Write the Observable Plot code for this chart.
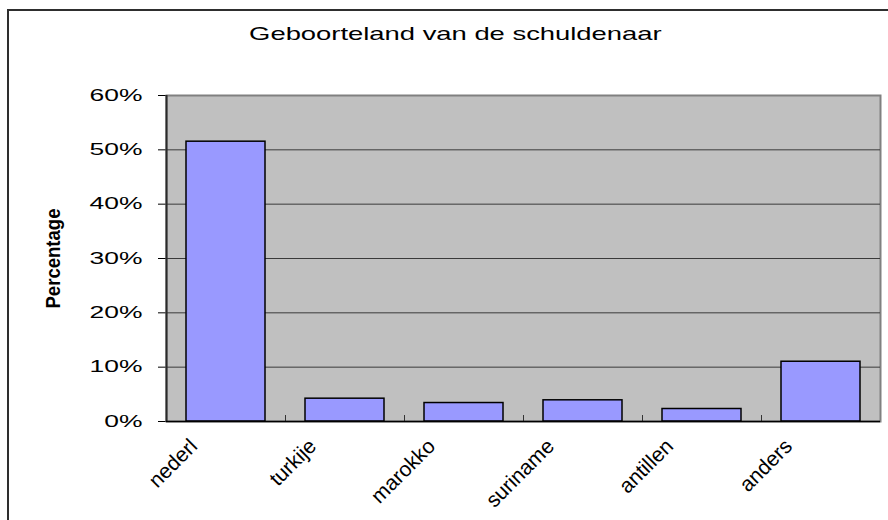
<!DOCTYPE html>
<html>
<head>
<meta charset="utf-8">
<script src="https://cdn.jsdelivr.net/npm/d3@7"></script>
<script src="https://cdn.jsdelivr.net/npm/@observablehq/plot@0.6"></script>
<style>
  html, body { margin: 0; padding: 0; background: #fff; width: 888px; height: 520px; overflow: hidden; }
  #frame { position: absolute; left: 7px; top: 9px; width: 940px; height: 620px; border: 2px solid #2e2e2e; box-sizing: border-box; }
  #title { position: absolute; left: 0; top: 24px; width: 910px; text-align: center; font-family: "Liberation Sans", Arial, sans-serif; font-size: 18.5px; line-height: 20px; color: #000; white-space: nowrap; }
  #title span { display: inline-block; transform: scaleX(1.48); transform-origin: 50% 50%; }
  #chart { position: absolute; left: 0; top: 55px; }
</style>
</head>
<body>
<div id="frame"></div>
<div id="title"><span></span></div>
<div id="chart"></div>
<script>
// ---- data ----
const title = "Geboorteland van de schuldenaar";
const yLabel = "Percentage";
const categories = ["nederl", "turkije", "marokko", "suriname", "antillen", "anders"];
const percentages = [51.5, 4.2, 3.4, 3.9, 2.3, 11.0];
const yTicks = [0, 10, 20, 30, 40, 50, 60];
const gridLevels = [10, 20, 30, 40, 50];

const data = categories.map((c, i) => ({category: c, value: percentages[i]}));

document.querySelector("#title span").textContent = title;

const chart = Plot.plot({
  width: 888,
  height: 465,
  marginTop: 40,
  marginBottom: 99,
  marginLeft: 166,
  marginRight: 8,
  style: {fontFamily: "'Liberation Sans', Arial, sans-serif", fontSize: "16px", color: "#000", background: "transparent", overflow: "visible"},
  x: {domain: categories, paddingInner: 0.336, paddingOuter: 0.168, axis: null},
  y: {domain: [0, 60], ticks: yTicks, tickFormat: d => d + "%", tickSize: 8, tickPadding: 16, label: null},
  marks: [
    Plot.frame({fill: "#C0C0C0", stroke: "#808080", strokeWidth: 2}),
    Plot.ruleY(gridLevels, {stroke: "#3a3a3a", strokeWidth: 1}),
    Plot.barY(data, {x: "category", y: "value", fill: "#9999FF", stroke: "#000", strokeWidth: 1.5}),
    Plot.ruleX(categories.slice(1), {x: d => d, y1: 0, y2: 1.1, dx: -59.5, stroke: "#333", strokeWidth: 1}),
    Plot.ruleX(categories.slice(0, 1), {x: d => d, y1: 0, y2: 60, dx: -59.5, stroke: "#2a2a2a", strokeWidth: 2}),
    Plot.ruleY([0], {stroke: "#000", strokeWidth: 1.5}),
    Plot.text(categories, {x: d => d, frameAnchor: "bottom", rotate: -45, textAnchor: "end", lineAnchor: "bottom", fontSize: 21, dx: -27.5, dy: 26, fill: "#000"}),
    Plot.text([yLabel], {frameAnchor: "left", rotate: -90, textAnchor: "middle", lineAnchor: "bottom", fontSize: 20, fontWeight: "bold", dx: -107, fill: "#000"})
  ]
});

document.getElementById("chart").appendChild(chart);

// stretch / condense texts like the reference rendering
d3.select(chart).selectAll("text").each(function() {
  const s = this.textContent.trim();
  if (this.childElementCount !== 0) return;
  if (/%$/.test(s)) {
    const len = this.getComputedTextLength();
    this.setAttribute("textLength", (len * 1.65).toFixed(1));
    this.setAttribute("lengthAdjust", "spacingAndGlyphs");
  } else if (s === yLabel) {
    this.setAttribute("textLength", "100");
    this.setAttribute("lengthAdjust", "spacingAndGlyphs");
  }
});
</script>
</body>
</html>
